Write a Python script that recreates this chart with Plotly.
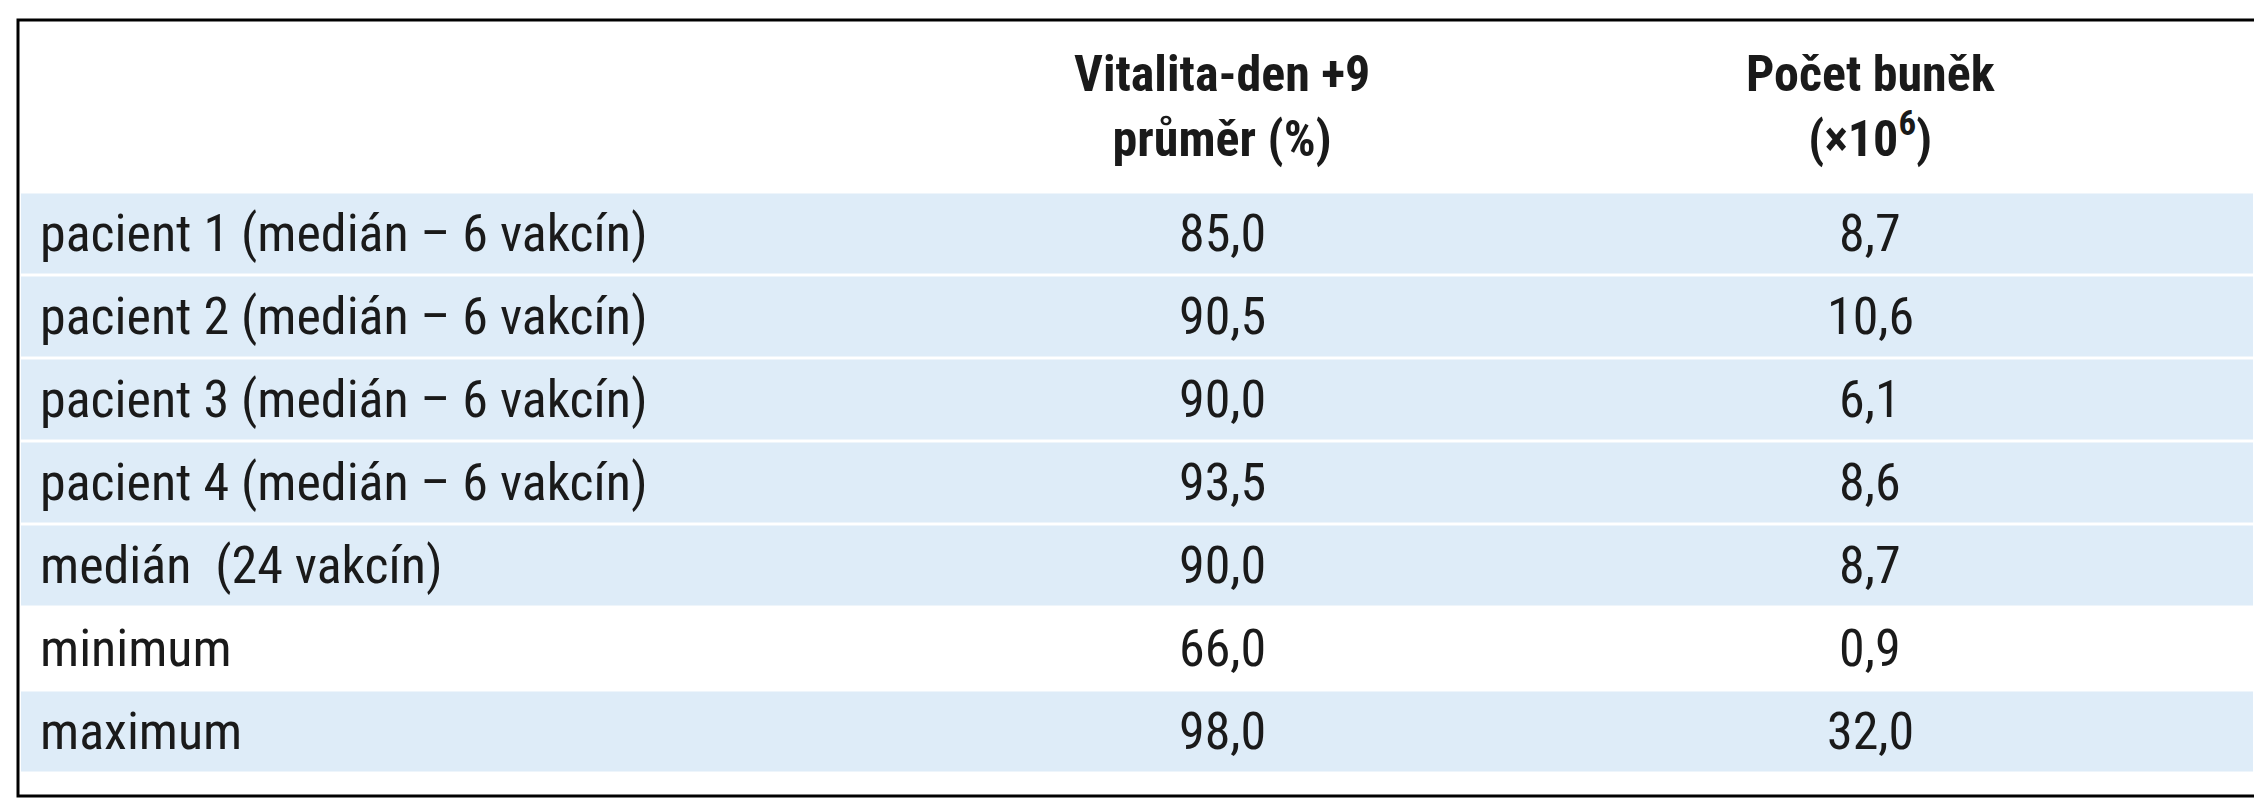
import plotly.graph_objects as go

header = ["", "Vitalita-den +9<br>průměr (%)", "Počet buněk<br>(×10<sup>6</sup>)"]
labels = ["pacient 1 (medián – 6 vakcín)", "pacient 2 (medián – 6 vakcín)",
          "pacient 3 (medián – 6 vakcín)", "pacient 4 (medián – 6 vakcín)",
          "medián  (24 vakcín)", "minimum", "maximum"]
vitalita = ["85,0", "90,5", "90,0", "93,5", "90,0", "66,0", "98,0"]
pocet = ["8,7", "10,6", "6,1", "8,6", "8,7", "0,9", "32,0"]
shaded = [True, True, True, True, True, False, True]

W, H = 2262, 800
L, R, T, B = 10, 2248, 12, 788
hdr_bottom = 184
row_h = 83
col2, col3 = 1214, 1862
fam = "Liberation Sans Narrow, Roboto Condensed, Open Sans"
font = dict(family=fam, size=52, color="#1a1a1a")

fig = go.Figure()
shapes = []
ann = []
for i, lab in enumerate(labels):
    y0 = hdr_bottom + i * row_h
    y1 = y0 + row_h
    if shaded[i]:
        shapes.append(dict(type="rect", xref="x", yref="y", x0=L + 3, x1=R - 3, y0=y0 + 1.5, y1=y1 - 1.5,
                           fillcolor="#deecf8", line=dict(width=0), layer="below"))
    yc = (y0 + y1) / 2
    ann.append(dict(x=L + 20, y=yc, text=lab, xanchor="left", yanchor="middle", showarrow=False, font=font))
    ann.append(dict(x=col2, y=yc, text=vitalita[i], xanchor="center", yanchor="middle", showarrow=False, font=font))
    ann.append(dict(x=col3, y=yc, text=pocet[i], xanchor="center", yanchor="middle", showarrow=False, font=font))
hfont = dict(family=fam, size=50, color="#1a1a1a")
for x, t in [(col2, header[1]), (col3, header[2])]:
    ann.append(dict(x=x, y=(T + hdr_bottom) / 2, text="<b>" + t + "</b>", xanchor="center", yanchor="middle",
                    showarrow=False, font=hfont))
shapes.append(dict(type="rect", xref="x", yref="y", x0=L, x1=R, y0=T, y1=B, line=dict(color="black", width=3)))

fig.update_layout(width=W, height=H, margin=dict(l=0, r=0, t=0, b=0), plot_bgcolor="white", paper_bgcolor="white",
                  shapes=shapes, annotations=ann, showlegend=False,
                  xaxis=dict(range=[0, W], visible=False, fixedrange=True),
                  yaxis=dict(range=[H, 0], visible=False, fixedrange=True))
fig.write_html("out.html")
